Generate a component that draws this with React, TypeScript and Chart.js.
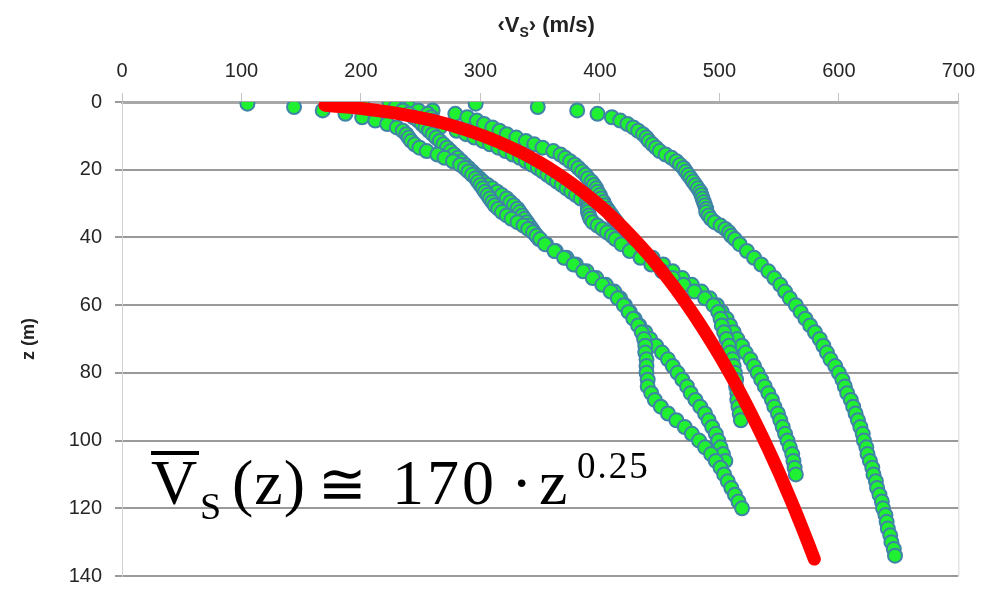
import React, { useEffect, useRef } from "react";
import { Chart, registerables } from "chart.js";

Chart.register(...registerables);

// Depth grids (m)
const DEPTH_SHALLOW = [0.5, 1.5, 2.5, 3.5, 4.5, 5.5, 6.5, 7.5, 8.5, 9.5, 10.5, 11.5, 12.5, 13.5, 14.5, 15.5, 16.5, 17.5, 18.5, 19.5, 20.5, 21.5, 22.5, 23.5, 24.5, 25.5, 26.5, 27.5, 28.5, 29.5, 30.5, 31.5, 32.5, 33.5, 34.5, 35.5, 36.5, 37.5, 38.5, 39.5, 40.5];
const DEPTH_DEEP = [42, 44, 46, 48, 50, 52, 54, 56, 58, 60, 62, 64, 66, 68, 70, 72, 74, 76, 78, 80, 82, 84, 86, 88, 90, 92, 94, 96, 98, 100, 102, 104, 106, 108, 110, 112, 114, 116, 118, 120, 122, 124, 126, 128, 130, 132, 134];

// <Vs> profiles (m/s)
const P1_SHALLOW = [105, 144, 168, 187, 201, 212, 222, 230, 235, 238, 240, 242, 245, 249, 255, 264, 270, 277, 283, 287, 290, 293, 296, 298, 300, 302, 304, 306, 308, 310, 312, 315, 318, 322, 326, 331, 336, 340, 344, 347, 350];
const P1_DEEP = [354, 362, 370, 378, 386, 394, 402, 409, 415, 420, 424, 428, 432, 435, 437, 438, 438, 439, 439, 439, 440, 440, 443, 446, 451, 457, 464, 471, 477, 483, 488, 493, 497, 501, 504, 507, 510, 513, 516, 519];

const P2_SHALLOW = [187, 229, 235, 240, 244, 248, 251, 254, 257, 260, 263, 266, 269, 272, 275, 278, 281, 284, 287, 290, 293, 296, 299, 302, 306, 310, 314, 318, 322, 325, 328, 331, 333, 335, 337, 339, 341, 343, 345, 347, 349];
const P2_DEEP = [355, 363, 372, 380, 389, 397, 405, 412, 417, 421, 425, 429, 433, 438, 442, 447, 452, 457, 461, 465, 469, 473, 476, 480, 484, 488, 491, 494, 497, 499, 501, 503, 505];

const P3_SHALLOW = [201, 232, 248, 256, 259, 261, 262, 266, 280, 288, 295, 302, 308, 315, 321, 327, 333, 338, 343, 348, 352, 356, 360, 364, 368, 372, 376, 380, 384, 389, 390, 390, 390, 391, 392, 394, 398, 402, 406, 410, 413];
const P3_DEEP = [418, 425, 434, 443, 452, 461, 470, 479, 488, 495, 499, 501, 502, 504, 506, 508, 509, 511, 512, 513, 514, 514, 515, 515, 516, 517, 518];

const P4_SHALLOW = [224, 240, 260, 279, 289, 297, 303, 310, 316, 322, 330, 338, 345, 352, 361, 367, 371, 375, 379, 382, 385, 388, 390, 393, 395, 397, 398, 400, 401, 403, 404, 406, 408, 410, 412, 414, 416, 418, 420, 422, 424];
const P4_DEEP = [426, 434, 444, 453, 461, 469, 477, 485, 492, 498, 502, 506, 509, 512, 515, 519, 522, 526, 529, 532, 535, 538, 541, 544, 546, 549, 551, 553, 555, 557, 559, 561, 562, 563, 564];

const P5_SHALLOW = [296, 348, 381, 398, 410, 417, 423, 428, 432, 436, 439, 441, 444, 447, 450, 455, 460, 464, 467, 470, 472, 474, 476, 478, 480, 482, 484, 485, 486, 487, 488, 489, 489, 491, 493, 496, 501, 505, 508, 510, 513];
const P5_DEEP = [517, 523, 529, 535, 541, 546, 551, 555, 559, 564, 568, 572, 576, 580, 584, 587, 590, 593, 597, 600, 603, 605, 607, 610, 612, 614, 616, 618, 620, 621, 623, 624, 626, 628, 629, 631, 632, 634, 636, 637, 639, 640, 641, 643, 644, 646, 647];

// Fitted curve  Vs(z) ~ 170 z^0.25 (tabulated)
const FIT_Z = [1, 1.5, 2, 3, 4, 5, 6, 8, 10, 12, 15, 18, 21, 25, 30, 35, 40, 45, 50, 55, 60, 65, 70, 75, 80, 85, 90, 95, 100, 105, 110, 115, 120, 125, 130, 135];
const FIT_V = [170.0, 188.1, 202.2, 223.7, 240.4, 254.2, 266.1, 285.9, 302.3, 316.4, 334.6, 350.2, 363.9, 380.1, 397.9, 413.5, 427.5, 440.3, 452.0, 463.0, 473.1, 482.7, 491.7, 500.3, 508.4, 516.2, 523.6, 530.7, 537.6, 544.2, 550.6, 556.7, 562.7, 568.4, 574.0, 579.5];

const X_TICK_STEP = 100;
const Y_TICK_STEP = 20;
const TITLE_PRE = "\u2039V";
const TITLE_SUB = "S";
const TITLE_POST = "\u203A (m/s)";
const Y_TITLE = "z (m)";

const SANS = "'Liberation Sans', Arial, sans-serif";
const SERIF = "'Liberation Serif', 'Times New Roman', serif";
const GREEN = "#1ff032";
const EDGE = "#3f84a6";

const FORMULA_PARTS = [
  { t: "V", x: 151, y: 504, size: 64, ls: 0 },
  { t: "S", x: 200, y: 519, size: 38, ls: 0 },
  { t: "(z)", x: 232, y: 504, size: 64, ls: 1 },
  { t: "\u2245", x: 318, y: 504, size: 58, ls: 0 },
  { t: "170", x: 392, y: 504, size: 64, ls: 3 },
  { t: "\u00B7", x: 511, y: 504, size: 64, ls: 0 },
  { t: "z", x: 539, y: 504, size: 64, ls: 0 },
  { t: "0.25", x: 577, y: 478, size: 37, ls: 2 },
];

function toPoints(shallow: number[], deep: number[]) {
  const a = shallow.map((v, i) => ({ x: v, y: DEPTH_SHALLOW[i] }));
  const b = deep.map((v, i) => ({ x: v, y: DEPTH_DEEP[i] }));
  return a.concat(b);
}

const decorPlugin = {
  id: "decor",
  afterDraw(chart: any) {
    const { ctx, chartArea } = chart;
    ctx.save();
    // right frame line
    ctx.strokeStyle = "#d6d6d6";
    ctx.lineWidth = 1;
    ctx.beginPath();
    ctx.moveTo(chartArea.right + 0.5, chartArea.top);
    ctx.lineTo(chartArea.right + 0.5, chartArea.bottom);
    ctx.stroke();

    // top title with subscript
    const big = `bold 22px ${SANS}`;
    const small = `bold 14px ${SANS}`;
    ctx.fillStyle = "#222";
    ctx.textBaseline = "alphabetic";
    ctx.textAlign = "left";
    ctx.font = big;
    const w1 = ctx.measureText(TITLE_PRE).width;
    const w3 = ctx.measureText(TITLE_POST).width;
    ctx.font = small;
    const w2 = ctx.measureText(TITLE_SUB).width;
    const total = w1 + w2 + w3;
    let x = (chartArea.left + chartArea.right) / 2 + 6 - total / 2;
    const y = 32;
    ctx.font = big;
    ctx.fillText(TITLE_PRE, x, y);
    x += w1;
    ctx.font = small;
    ctx.fillText(TITLE_SUB, x, y + 5);
    x += w2;
    ctx.font = big;
    ctx.fillText(TITLE_POST, x, y);

    // formula annotation
    ctx.fillStyle = "#000";
    for (const p of FORMULA_PARTS) {
      ctx.font = `${p.size}px ${SERIF}`;
      (ctx as any).letterSpacing = `${p.ls}px`;
      ctx.fillText(p.t, p.x, p.y);
    }
    (ctx as any).letterSpacing = "0px";
    ctx.fillRect(151, 451, 48, 4);
    ctx.restore();
  },
};

export default function App() {
  const ref = useRef<HTMLCanvasElement>(null);
  useEffect(() => {
    document.body.style.margin = "0";
    const canvas = ref.current!;
    const greenSet = (label: string, data: any[]) => ({
      label,
      data,
      showLine: false,
      pointRadius: 7,
      pointBorderWidth: 2,
      pointBackgroundColor: GREEN,
      pointBorderColor: EDGE,
      backgroundColor: GREEN,
      borderColor: EDGE,
    });
    const chart = new Chart(canvas, {
      type: "scatter",
      data: {
        datasets: [
          {
            label: "fit",
            data: FIT_Z.map((z, i) => ({ x: FIT_V[i], y: z })),
            showLine: true,
            borderColor: "#ff0000",
            backgroundColor: "#ff0000",
            borderWidth: 13,
            borderCapStyle: "round",
            borderJoinStyle: "round",
            pointRadius: 0,
            tension: 0.3,
          } as any,
          greenSet("P1", toPoints(P1_SHALLOW, P1_DEEP)),
          greenSet("P2", toPoints(P2_SHALLOW, P2_DEEP)),
          greenSet("P3", toPoints(P3_SHALLOW, P3_DEEP)),
          greenSet("P4", toPoints(P4_SHALLOW, P4_DEEP)),
          greenSet("P5", toPoints(P5_SHALLOW, P5_DEEP)),
        ],
      },
      options: {
        responsive: false,
        animation: false,
        devicePixelRatio: 1,
        events: [],
        layout: { padding: { left: 0, right: 23, top: 0, bottom: 10 } },
        plugins: { legend: { display: false }, tooltip: { enabled: false } },
        scales: {
          x: {
            type: "linear",
            position: "top",
            min: 0,
            max: 700,
            ticks: { stepSize: X_TICK_STEP, font: { family: SANS, size: 20 }, color: "#262626", padding: 10 },
            grid: { drawOnChartArea: false, drawTicks: true, tickLength: 9, color: "#c4c4c4", lineWidth: 1 },
            border: { display: true, color: "#a8a8a8", width: 3 },
            afterFit: (s: any) => {
              s.height = 102;
            },
          },
          y: {
            type: "linear",
            reverse: true,
            min: 0,
            max: 140,
            ticks: { stepSize: Y_TICK_STEP, font: { family: SANS, size: 20 }, color: "#262626", padding: 13 },
            grid: { color: "#9a9a9a", lineWidth: 2, tickLength: 7 },
            border: { display: true, color: "#d0d0d0", width: 1 },
            title: {
              display: true,
              text: Y_TITLE,
              font: { family: SANS, size: 18, weight: "bold" },
              color: "#222",
              padding: { top: 18, bottom: 0 },
            },
            afterFit: (s: any) => {
              s.width = 122;
            },
          },
        } as any,
      },
      plugins: [decorPlugin],
    });
    return () => chart.destroy();
  }, []);
  return (
    <div style={{ width: 985, height: 601, position: "relative" }}>
      <canvas ref={ref} width={985} height={601} style={{ display: "block" }} />
    </div>
  );
}
